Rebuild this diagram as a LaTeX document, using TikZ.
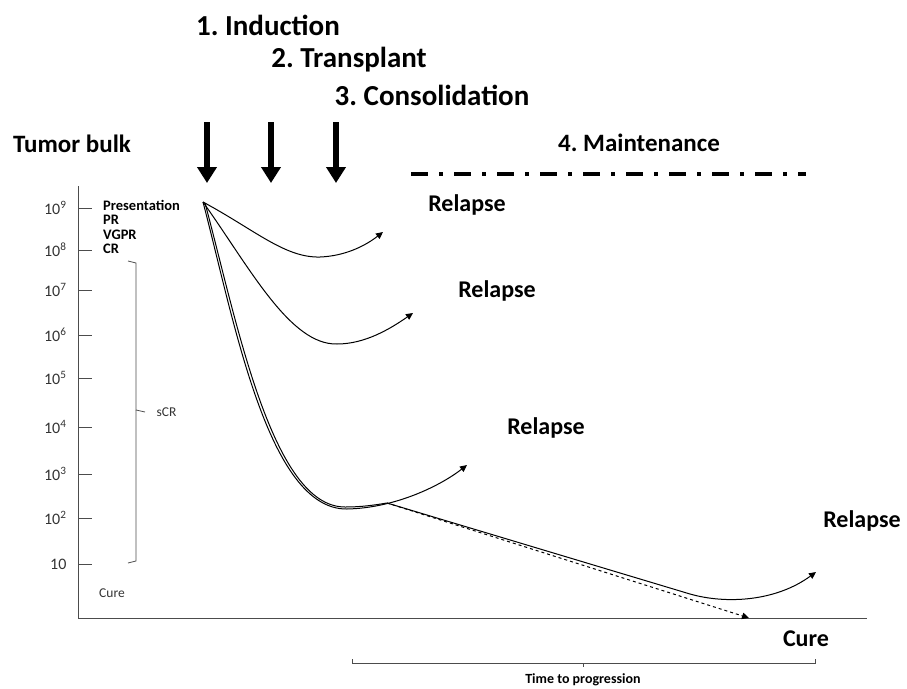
\documentclass[tikz,border=0pt]{standalone}
\usepackage{fontspec}
\setmainfont{Carlito}
\usepackage{xcolor}
\usetikzlibrary{arrows.meta}
\frenchspacing

\begin{document}
\begin{tikzpicture}[x=1pt, y=-1pt,
  phase/.style={font=\fontsize{29}{32}\selectfont\bfseries},
  relapse/.style={font=\fontsize{24}{27}\selectfont\bfseries},
  stage/.style={font=\fontsize{14.5}{16}\selectfont\bfseries, anchor=base west, inner sep=0pt},
  ticklabel/.style={font=\fontsize{16}{18}\selectfont, anchor=east, text=black!80},
  course/.style={line width=1pt, -{Triangle[length=7pt,width=6.5pt]}},
  therapy/.style={line width=6pt, -{Triangle[length=16pt,width=19pt]}}]

\useasboundingbox (0,0) rectangle (907,688);

% titles
\node (induction) [phase] at (268,25) {1. Induction};
\node (transplant) [phase] at (349,60) {2. Transplant};
\node (consolidation) [phase] at (432,95) {3. Consolidation};
\node (maintenance) [phase, font=\fontsize{25}{28}\selectfont\bfseries] at (639,143) {4. Maintenance};
\node (bulk) [phase, font=\fontsize{25}{28}\selectfont\bfseries] at (72,144) {Tumor bulk};

% therapy arrows
\coordinate (ind top) at (207,122);
\coordinate (ind tip) at (207,183);
\coordinate (tra top) at (271,122);
\coordinate (tra tip) at (271,183);
\coordinate (con top) at (336,122);
\coordinate (con tip) at (336,183);
\draw[therapy] (ind top) -- (ind tip);
\draw[therapy] (tra top) -- (tra tip);
\draw[therapy] (con top) -- (con tip);

% maintenance line
\coordinate (main start) at (411,174);
\coordinate (main end) at (806,174);
\draw[line width=4pt, dash pattern=on 17pt off 11pt on 4pt off 11pt] (main start) -- (main end);

% axes
\coordinate (origin) at (78,618);
\coordinate (ytop) at (78,186);
\coordinate (xend) at (867,618);
\draw[black!70, line width=1pt] (ytop) -- (origin) -- (xend);

\foreach \y/\lab in {208/10\textsuperscript{9}, 250/10\textsuperscript{8}, 290/10\textsuperscript{7},
  335/10\textsuperscript{6}, 378/10\textsuperscript{5}, 427/10\textsuperscript{4},
  474/10\textsuperscript{3}, 518/10\textsuperscript{2}, 564/10} {
  \draw[black!70, line width=1pt] (78,\y) -- (92,\y);
  \node[ticklabel] at (70,\y) {\lab};
}

% response stages
\node (presentation) [stage] at (103,210) {Presentation};
\node (pr) [stage] at (103,224) {PR};
\node (vgpr) [stage] at (103,239) {VGPR};
\node (cr) [stage] at (103,253) {CR};

% sCR bracket
\draw[black!70, line width=0.8pt] (128,261) -- (136,263) -- (136,410) -- (145,412);
\draw[black!70, line width=0.8pt] (136,410) -- (136,561) -- (128,563);
\node (scr) [font=\fontsize{13.5}{15}\selectfont, text=black!80, anchor=west] at (153,412) {sCR};
\node (small cure) [font=\fontsize{13.5}{15}\selectfont, text=black!80] at (112,593) {Cure};

% disease courses
\coordinate (presented) at (203,202);
\coordinate (low1) at (320,257);
\coordinate (end1) at (383,232);
\coordinate (low2) at (337,344);
\coordinate (end2) at (413,313);
\coordinate (low3) at (347,509);
\coordinate (end3) at (467,465);
\coordinate (branch) at (387,503);
\coordinate (bend) at (690,594);
\coordinate (end4) at (816,572);
\coordinate (cured) at (749,618);

\draw[course] (presented) .. controls (255,230) and (285,258) .. (low1)
  .. controls (345,256) and (365,246) .. (end1);
\draw[course] (presented) .. controls (250,268) and (290,345) .. (low2)
  .. controls (365,344) and (390,329) .. (end2);
\draw[course] (presented) .. controls (234,320) and (268,510) .. (low3)
  .. controls (395,508) and (440,486) .. (end3);
\draw[course] (205,203) .. controls (237,322) and (272,507) .. (345,507)
  .. controls (362,507) and (375,505) .. (branch) -- (bend)
  .. controls (725,604) and (775,602) .. (end4);
\draw[line width=1pt, dashed, -{Triangle[length=7pt,width=6.5pt]}] (branch) -- (cured);

% relapse labels
\node (relapse1) [relapse] at (467,205) {Relapse};
\node (relapse2) [relapse] at (497,291) {Relapse};
\node (relapse3) [relapse] at (546,428) {Relapse};
\node (relapse4) [relapse] at (862,521) {Relapse};
\node (cure) [relapse] at (806,639) {Cure};

% time to progression
\draw[black!70, line width=0.8pt] (352,659) -- (352,663) -- (815,663) -- (815,659);
\draw[black!70, line width=0.8pt] (583,663) -- (583,667);
\node (ttp) [font=\fontsize{14}{15}\selectfont\bfseries] at (583,680) {Time to progression};

\end{tikzpicture}
\end{document}
